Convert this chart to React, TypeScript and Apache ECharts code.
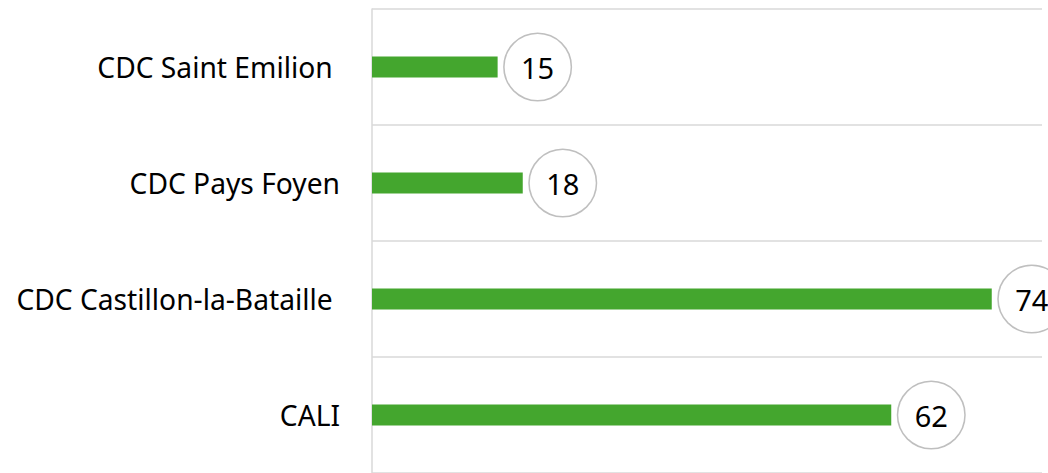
import React, { useEffect, useRef } from "react";
import * as echarts from "echarts";

const categories = ["CDC Saint Emilion ", "CDC Pays Foyen", "CDC Castillon-la-Bataille ", "CALI"];
const values = [15, 18, 74, 62];

export default function App() {
  const ref = useRef<HTMLDivElement>(null);
  useEffect(() => {
    if (!ref.current) return;
    const chart = echarts.init(ref.current, null, { renderer: "svg" });
    chart.setOption({
      animation: false,
      grid: { left: 372, right: 6, top: 9, height: 467, containLabel: false },
      xAxis: {
        type: "value",
        min: 0,
        max: 80,
        axisLabel: { show: false },
        axisLine: { show: false },
        axisTick: { show: false },
        splitLine: { show: false },
      },
      yAxis: {
        type: "category",
        inverse: true,
        data: categories,
        axisLine: { show: true, lineStyle: { color: "#d9d9d9", width: 1.5 } },
        axisTick: { show: false },
        splitLine: { show: true, lineStyle: { color: "#d9d9d9", width: 1.5 } },
        axisLabel: {
          color: "#000",
          fontFamily: "Noto Sans",
          fontSize: 28.2,
          margin: 32,
        },
      },
      series: [
        {
          type: "bar",
          data: values,
          barWidth: 21,
          itemStyle: { color: "#44a62e" },
          label: {
            show: true,
            position: "right",
            distance: 7,
            formatter: "{v|{c}}",
            fontFamily: "Noto Sans",
            fontSize: 29,
            color: "#000",
            backgroundColor: "#fff",
            borderColor: "#bfbfbf",
            borderWidth: 1.5,
            borderRadius: 33,
            padding: 0,
            rich: {
              v: {
                width: 66,
                height: 66,
                lineHeight: 66,
                align: "center",
                fontFamily: "Noto Sans",
                fontSize: 29,
                color: "#000",
              },
            },
          },
        },
      ],
    });
    return () => chart.dispose();
  }, []);
  return (
    <div
      ref={ref}
      style={{ position: "fixed", left: 0, top: 0, width: 1048, height: 473, background: "#fff" }}
    />
  );
}
